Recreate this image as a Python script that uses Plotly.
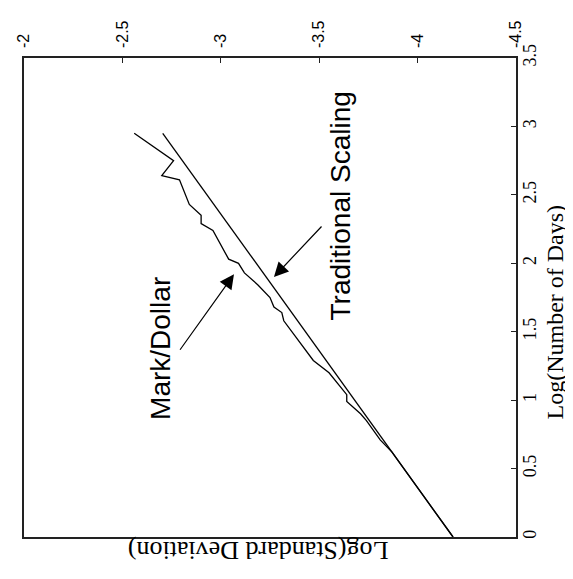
import plotly.graph_objects as go

# ---- data ----
# Log(Number of Days) vs Log(Standard Deviation)
md_days = [2.95, 2.75, 2.64, 2.61, 2.43, 2.35, 2.29, 2.24, 2.03, 2.00, 1.93, 1.84,
           1.75, 1.68, 1.64, 1.58, 1.29, 1.20, 1.04, 0.99, 0.90, 0.85, 0.71, 0.65,
           0.62, 0.30, 0.0]
md_sd = [-2.56, -2.76, -2.70, -2.79, -2.84, -2.90, -2.90, -2.96, -3.04, -3.09, -3.12, -3.19,
         -3.25, -3.27, -3.31, -3.32, -3.47, -3.55, -3.64, -3.64, -3.71, -3.74, -3.81, -3.85,
         -3.87, -4.03, -4.18]

trad_days = [0.0, 2.95]
trad_sd = [-4.18, -2.705]

sd_ticks = [-2, -2.5, -3, -3.5, -4, -4.5]
sd_ticktext = ["-2", "-2.5", "-3", "-3.5", "-4", "-4.5"]
day_ticks = [0, 0.5, 1, 1.5, 2, 2.5, 3, 3.5]
day_ticktext = ["0", "0.5", "1", "1.5", "2", "2.5", "3", "3.5"]

fig = go.Figure()
fig.add_trace(go.Scatter(x=md_sd, y=md_days, mode="lines",
                         line=dict(color="black", width=1.3), name="Mark/Dollar"))
fig.add_trace(go.Scatter(x=trad_sd, y=trad_days, mode="lines",
                         line=dict(color="black", width=1.3), name="Traditional Scaling"))

sans = "Liberation Sans, Arial, sans-serif"
serif = "Liberation Serif, Times New Roman, serif"

# the page body adds an 8px offset, compensated in the margins
fig.update_layout(
    width=573, height=579,
    margin=dict(l=15.5, r=65.4, t=50.4, b=50.4),
    paper_bgcolor="white", plot_bgcolor="white",
    showlegend=False,
    xaxis=dict(range=[-2, -4.5], side="top", tickvals=sd_ticks, ticktext=sd_ticktext,
               tickangle=-90, ticks="inside", ticklen=5, tickcolor="#222",
               showline=True, mirror=True, linecolor="#222", linewidth=1.5,
               showgrid=False, zeroline=False, ticklabelstandoff=5, automargin=False,
               tickfont=dict(family=sans, size=16, color="black")),
    yaxis=dict(range=[0, 3.5], side="right", tickvals=day_ticks, ticktext=day_ticktext,
               tickangle=-90, ticks="inside", ticklen=5, tickcolor="#222",
               showline=True, mirror=True, linecolor="#222", linewidth=1.5,
               showgrid=False, zeroline=False, ticklabelstandoff=-3, automargin=False,
               tickfont=dict(family=serif, size=18, color="black")),
)

annotations = [
    dict(text="Log(Standard Deviation)", xref="paper", yref="paper", x=0.475, y=-0.064,
         showarrow=False, textangle=180, font=dict(family=serif, size=26, color="black")),
    dict(text="Log(Number of Days)", xref="paper", yref="paper", x=1.109, y=0.47,
         showarrow=False, textangle=-90, font=dict(family=serif, size=24, color="black")),
    dict(text="Mark/Dollar", xref="x", yref="y", x=-2.69, y=1.38,
         showarrow=False, textangle=-90, font=dict(family=sans, size=28, color="black")),
    dict(text="Traditional Scaling", xref="x", yref="y", x=-3.607, y=2.417,
         showarrow=False, textangle=-90, font=dict(family=sans, size=28, color="black")),
    dict(text="", xref="x", yref="y", x=-3.067, y=1.92, ax=-55, ay=77,
         showarrow=True, arrowhead=2, arrowsize=2.4, arrowwidth=1.2, arrowcolor="black"),
    dict(text="", xref="x", yref="y", x=-3.27, y=1.90, ax=49, ay=-52,
         showarrow=True, arrowhead=2, arrowsize=2.4, arrowwidth=1.2, arrowcolor="black"),
]
fig.update_layout(annotations=annotations)

fig.write_html("out.html")
